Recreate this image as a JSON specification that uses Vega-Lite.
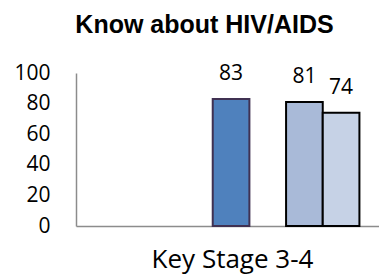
{
  "$schema": "https://vega.github.io/schema/vega-lite/v6.json",
  "width": 303,
  "height": 153,
  "autosize": {"type": "none"},
  "padding": {"left": 76, "top": 73, "right": 0, "bottom": 50},
  "background": "white",
  "title": {
    "text": "Know about HIV/AIDS",
    "font": "Liberation Sans",
    "fontSize": 25,
    "fontWeight": "bold",
    "color": "#000000",
    "anchor": "middle",
    "frame": "group",
    "dx": -23,
    "baseline": "alphabetic",
    "offset": 4
  },
  "config": {"view": {"stroke": null}, "font": "Open Sans"},
  "data": {
    "values": [
      {"stage": "Key Stage 3-4", "series": "Series 4", "value": 83},
      {"stage": "Key Stage 3-4", "series": "Series 6", "value": 81},
      {"stage": "Key Stage 3-4", "series": "Series 7", "value": 74}
    ]
  },
  "encoding": {
    "x": {
      "field": "series",
      "type": "nominal",
      "scale": {
        "domain": ["Series 1", "Series 2", "Series 3", "Series 4", "Series 5", "Series 6", "Series 7"],
        "paddingInner": 0,
        "paddingOuter": 0.631,
        "align": 0.577
      },
      "axis": {
        "title": "Key Stage 3-4",
        "labels": false,
        "ticks": false,
        "domainColor": "#8c8c8c",
        "domainWidth": 1.5,
        "titleFont": "Open Sans",
        "titleFontSize": 26,
        "titleFontWeight": "normal",
        "titleColor": "#000000",
        "titlePadding": 20,
        "titleX": 156
      }
    },
    "y": {
      "field": "value",
      "type": "quantitative",
      "scale": {"domain": [0, 100]},
      "axis": {
        "title": null,
        "values": [0, 20, 40, 60, 80, 100],
        "grid": false,
        "ticks": false,
        "tickSize": 0,
        "labelPadding": 26,
        "labelFont": "Open Sans",
        "labelFontSize": 21,
        "labelColor": "#000000",
        "domainColor": "#8c8c8c",
        "domainWidth": 1.5
      }
    }
  },
  "layer": [
    {
      "mark": {"type": "bar", "strokeWidth": 2},
      "encoding": {
        "color": {
          "field": "series",
          "type": "nominal",
          "scale": {"domain": ["Series 4", "Series 6", "Series 7"], "range": ["#4F81BD", "#A9BAD8", "#C6D2E6"]},
          "legend": null
        },
        "stroke": {
          "field": "series",
          "type": "nominal",
          "scale": {"domain": ["Series 4", "Series 6", "Series 7"], "range": ["#403152", "#000000", "#000000"]},
          "legend": null
        }
      }
    },
    {
      "mark": {"type": "text", "font": "Open Sans", "fontSize": 21, "baseline": "alphabetic", "dy": -19, "color": "#000000"},
      "encoding": {"text": {"field": "value", "type": "quantitative"}}
    }
  ]
}
